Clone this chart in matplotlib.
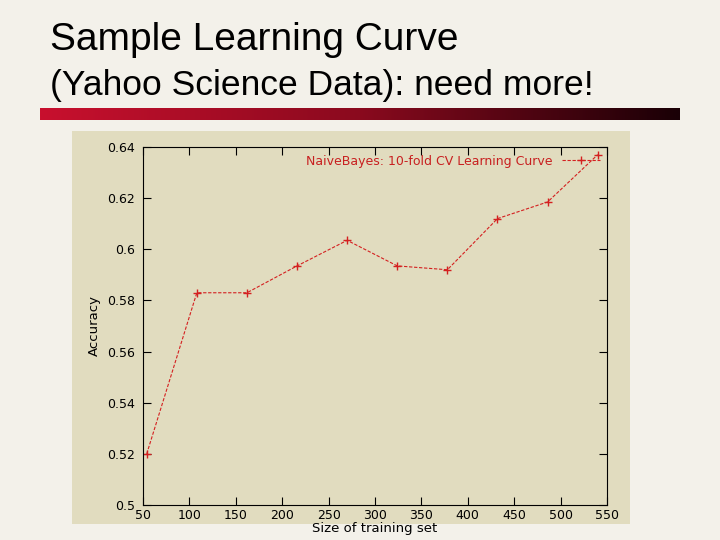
import numpy as np
import matplotlib.pyplot as plt
from matplotlib.colors import LinearSegmentedColormap

# --- Data ---
train_size = [54, 108, 162, 216, 270, 324, 378, 432, 486, 540]
accuracy = [0.520, 0.583, 0.583, 0.5935, 0.6035, 0.5935, 0.592, 0.612, 0.6185, 0.637]
x_ticks = [50, 100, 150, 200, 250, 300, 350, 400, 450, 500, 550]
y_ticks = [0.5, 0.52, 0.54, 0.56, 0.58, 0.6, 0.62, 0.64]
y_labels = ["0.5", "0.52", "0.54", "0.56", "0.58", "0.6", "0.62", "0.64"]

W, H = 720, 540
fig = plt.figure(figsize=(7.2, 5.4), dpi=100)
fig.patch.set_facecolor("#f3f1ea")

def box(x0, y0, x1, y1):
    # pixel box (top-left origin) -> figure fraction rect
    return [x0 / W, 1 - y1 / H, (x1 - x0) / W, (y1 - y0) / H]

fig.text(50 / W, 1 - 40 / H, "Sample Learning Curve", fontsize=28, va="center",
         family="Liberation Sans")
fig.text(50 / W, 1 - 86 / H, "(Yahoo Science Data): need more!", fontsize=25.5, va="center",
         family="Liberation Sans")

# red gradient bar under the title
bar = fig.add_axes(box(40, 108, 680, 120))
cmap = LinearSegmentedColormap.from_list("bar", ["#c8102e", "#8a0a1e", "#1a0006"])
bar.imshow(np.linspace(0, 1, 256)[None, :], aspect="auto", cmap=cmap)
bar.axis("off")

# embedded plot image background
bg = fig.add_axes(box(72, 131, 630, 524))
bg.set_facecolor("#e1dcbf")
bg.set_xticks([])
bg.set_yticks([])
for s in bg.spines.values():
    s.set_visible(False)

ax = fig.add_axes(box(143, 147, 607, 505))
ax.set_facecolor("#e1dcbf")
ax.plot(train_size, accuracy, color="#d42020", lw=0.8, ls=(0, (3, 1.5)),
        marker="+", ms=6, mew=1, label="NaiveBayes: 10-fold CV Learning Curve")
ax.set_xlim(50, 550)
ax.set_ylim(0.5, 0.64)
ax.set_xticks(x_ticks)
ax.set_yticks(y_ticks)
ax.set_yticklabels(y_labels)
ax.tick_params(direction="in", length=6, labelsize=9, right=True, top=True, pad=3)
ax.tick_params(axis="y", pad=6)
for s in ax.spines.values():
    s.set_linewidth(0.8)
ax.set_xlabel("Size of training set", fontsize=9.5, labelpad=0)
ax.set_ylabel("Accuracy", fontsize=9.5, labelpad=4)
leg = ax.legend(loc="upper right", frameon=False, fontsize=9, markerfirst=False,
                borderaxespad=0.2, handlelength=3)
for t in leg.get_texts():
    t.set_color("#c82020")

fig.savefig("out.png", dpi=100, facecolor=fig.get_facecolor())
